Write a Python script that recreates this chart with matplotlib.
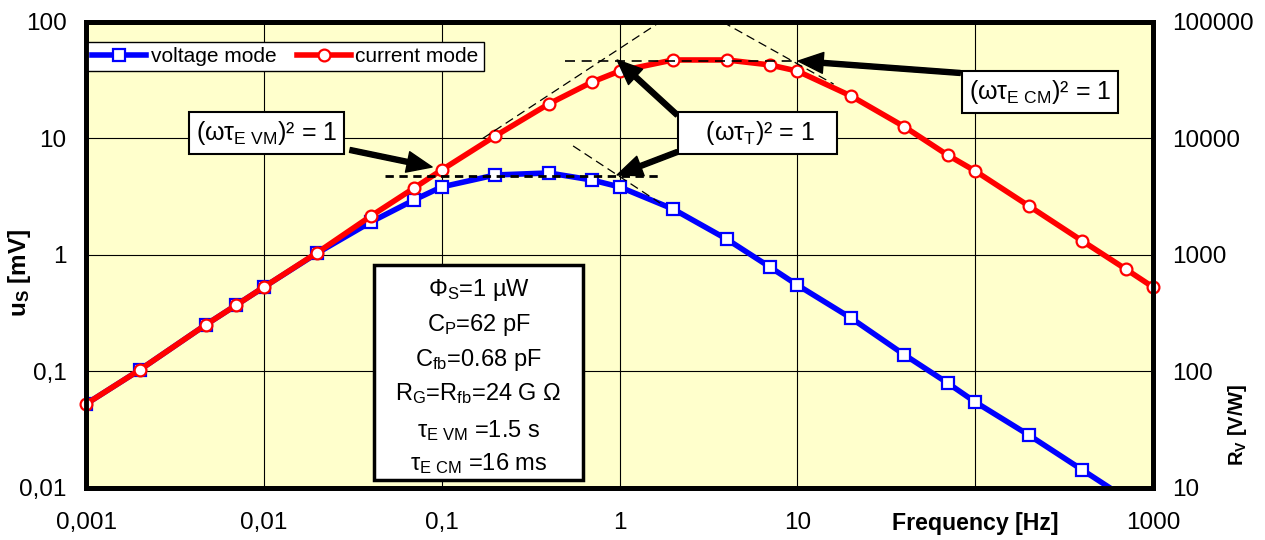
import matplotlib.pyplot as plt
from matplotlib.patches import Rectangle
from matplotlib.ticker import FixedLocator, NullLocator

plt.rcParams['font.family'] = ['Liberation Sans', 'DejaVu Sans']
plt.rcParams['mathtext.fontset'] = 'custom'
plt.rcParams['mathtext.rm'] = 'Liberation Sans'
plt.rcParams['mathtext.it'] = 'Liberation Sans:italic'
plt.rcParams['mathtext.bf'] = 'Liberation Sans:bold'

# 讀圖得到的數據 (Hz, mV)
freq = [0.001, 0.002, 0.0047, 0.007, 0.01, 0.02, 0.04, 0.07, 0.1, 0.2, 0.4, 0.7,
        1, 2, 4, 7, 10, 20, 40, 70, 100, 200, 400, 700, 1000]
u_voltage = [0.0526, 0.103, 0.251, 0.372, 0.53, 1.04, 1.92, 2.97, 3.84, 4.86, 5.06, 4.4,
             3.84, 2.48, 1.37, 0.789, 0.552, 0.288, 0.139, 0.0796, 0.0547, 0.0285, 0.0143,
             0.0082, 0.0057]
u_current = [0.0526, 0.103, 0.251, 0.372, 0.53, 1.05, 2.16, 3.76, 5.37, 10.5, 19.8, 30.5,
             37.9, 47.2, 47.2, 42.8, 37.9, 23.2, 12.6, 7.2, 5.26, 2.64, 1.32, 0.759, 0.53]

x_ticks = [0.001, 0.01, 0.1, 1, 10, 100, 1000]
x_labels = ['0,001', '0,01', '0,1', '1', '10', 'Frequency [Hz]', '1000']
y_ticks = [0.01, 0.1, 1, 10, 100]
y_labels = ['0,01', '0,1', '1', '10', '100']
rv_ticks = [10, 100, 1000, 10000, 100000]
rv_labels = ['10', '100', '1000', '10000', '100000']

# 漸近線 (虛線)
vm_flat_f, vm_flat_u = [0.048, 1.69], [4.72, 4.72]
vm_hf_f, vm_hf_u = [0.548, 1.69], [8.63, 2.79]
cm_lf_f, cm_lf_u = [0.17, 1.69], [10.0, 100]
cm_flat_f, cm_flat_u = [0.494, 10.0], [46.2, 46.2]
cm_hf_f, cm_hf_u = [3.8, 16.0], [100, 29.3]

# 註解: 文字, 方框中心, 箭頭 (尾, 頭)
labels = [r'(ωτ$_\mathrm{E\ VM}$)² = 1', r'   (ωτ$_\mathrm{T}$)² = 1   ', r'(ωτ$_\mathrm{E\ CM}$)² = 1']
label_pos = [(0.0103, 11.1), (5.94, 11.1), (232, 25.1)]
arrows = [((0.0305, 7.97), (0.0883, 5.69)),
          ((2.11, 7.66), (0.969, 4.86)),
          ((2.11, 15.9), (0.969, 47.2)),
          ((82.4, 36.5), (10.1, 46.2))]

info_lines = [r'Φ$_\mathrm{S}$=1 µW', r'C$_\mathrm{P}$=62 pF', r'C$_\mathrm{fb}$=0.68 pF',
              r'R$_\mathrm{G}$=R$_\mathrm{fb}$=24 G Ω', r'τ$_\mathrm{E\ VM}$ =1.5 s',
              r'τ$_\mathrm{E\ CM}$ =16 ms']

fig = plt.figure(figsize=(12.65, 5.4), dpi=100)
ax = fig.add_axes([0.068, 0.0963, 0.8435, 0.863])
ax.set_facecolor('#FFFFCC')
ax.set_xscale('log')
ax.set_yscale('log')
ax.set_xlim(0.001, 1000)
ax.set_ylim(0.01, 100)

ax.plot(freq, u_voltage, color='#0000FF', lw=4, marker='s', ms=8.5, mfc='white',
        mec='#0000FF', mew=1.6, label='voltage mode', zorder=3)
ax.plot(freq, u_current, color='#FF0000', lw=4, marker='o', ms=8.5, mfc='white',
        mec='#FF0000', mew=1.6, label='current mode', zorder=3.1, clip_on=False)

ax.plot(vm_flat_f, vm_flat_u, color='black', lw=2, ls=(0, (3, 2)), zorder=3.2)
ax.plot(cm_flat_f, cm_flat_u, color='black', lw=1.2, ls=(0, (6, 4)), zorder=3.2)
for f, u in [(vm_hf_f, vm_hf_u), (cm_lf_f, cm_lf_u), (cm_hf_f, cm_hf_u)]:
    ax.plot(f, u, color='black', lw=0.9, ls=(0, (7, 4)), zorder=3.2)

for tail, tip in arrows:
    ax.annotate('', xy=tip, xytext=tail, zorder=4,
                arrowprops=dict(facecolor='black', edgecolor='black', width=3.6,
                                headwidth=15, headlength=18, shrink=0))
for s, (x, y) in zip(labels, label_pos):
    ax.text(x, y, s, ha='center', va='center', fontsize=18, zorder=6,
            bbox=dict(boxstyle='square,pad=0.28', fc='white', ec='black', lw=1.5))

ax.add_patch(Rectangle((0.270, 0.017), 0.196, 0.4615, transform=ax.transAxes,
                       fc='white', ec='black', lw=2.5, zorder=5))
info_y = [0.425, 0.350, 0.275, 0.202, 0.124, 0.052]
for s, y in zip(info_lines, info_y):
    ax.text(0.368, y, s, transform=ax.transAxes, ha='center', va='center',
            fontsize=17, zorder=6)

ax.grid(True, which='major', color='black', lw=0.8)
ax.xaxis.set_major_locator(FixedLocator(x_ticks))
ax.xaxis.set_minor_locator(NullLocator())
ax.set_xticklabels(x_labels, fontsize=17.5)
freq_lbl = ax.get_xticklabels()[5]
freq_lbl.set_fontweight('bold')
freq_lbl.set_fontsize(16.7)
ax.yaxis.set_major_locator(FixedLocator(y_ticks))
ax.yaxis.set_minor_locator(NullLocator())
ax.set_yticklabels(y_labels, fontsize=17.5)
ax.tick_params(axis='x', length=0, pad=17)
ax.tick_params(axis='y', length=0, pad=14)
ax.set_ylabel(r'u$_\mathbf{S}$ [mV]', fontsize=17.5, fontweight='bold')
ax.yaxis.set_label_coords(-0.05, 0.461)

ax2 = ax.twinx()
ax2.set_yscale('log')
ax2.set_ylim(10, 100000)
ax2.yaxis.set_major_locator(FixedLocator(rv_ticks))
ax2.yaxis.set_minor_locator(NullLocator())
ax2.set_yticklabels(rv_labels, fontsize=17.5)
ax2.tick_params(axis='y', length=0, pad=14)
ax2.set_ylabel(r'R$_\mathbf{V}$ [V/W]', fontsize=14.5, fontweight='bold')
ax2.yaxis.set_label_coords(1.068, 0.135)

for a in (ax, ax2):
    for sp in a.spines.values():
        sp.set_linewidth(3.5)
        sp.set_color('black')

leg = ax.legend(loc='upper left', bbox_to_anchor=(0.001, 0.957), ncol=2, fontsize=15,
                frameon=True, fancybox=False, edgecolor='black', framealpha=1,
                borderaxespad=0, borderpad=0.25, handlelength=2.6, handletextpad=0.2,
                columnspacing=1.0)
leg.get_frame().set_linewidth(1.0)
leg.set_zorder(7)

fig.savefig('out.png', dpi=100)
